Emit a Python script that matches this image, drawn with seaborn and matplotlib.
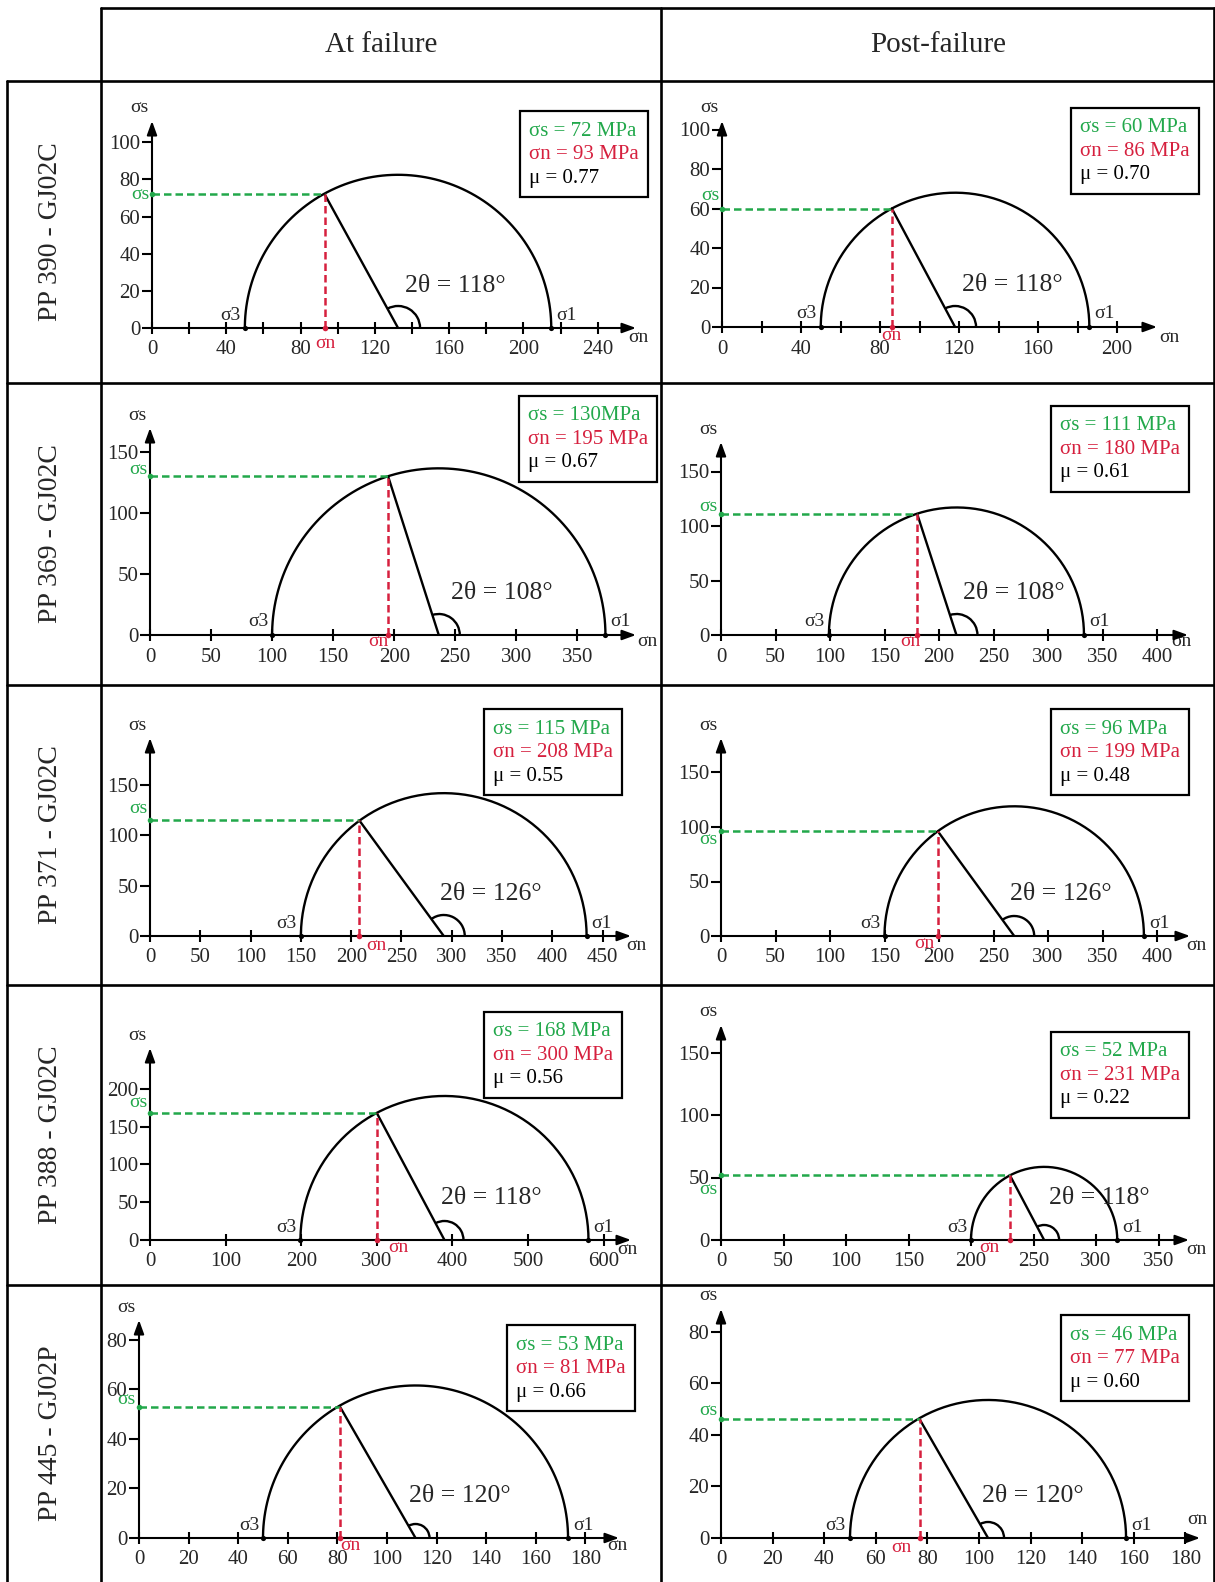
import numpy as np
import matplotlib
matplotlib.use('Agg')
import matplotlib.pyplot as plt
import seaborn as sns
from matplotlib.patches import Arc, Rectangle

sns.set_theme(style='white')
plt.rcParams['font.family'] = ['Liberation Serif', 'DejaVu Serif']

W, H = 1215, 1582
GREEN = '#22a84b'
RED = '#d6203e'

# table headings
samples = ['PP 390 - GJ02C', 'PP 369 - GJ02C', 'PP 371 - GJ02C', 'PP 388 - GJ02C', 'PP 445 - GJ02P']
stages = ['At failure', 'Post-failure']

# one value per panel, row by row (at failure, post-failure)
sigma3 = [50, 50, 100, 99, 150, 150, 199, 200, 50, 50]
sigma1 = [215, 186, 373, 333, 434, 388, 580, 317, 173, 157]
sigma_s = [72, 60, 130, 111, 115, 96, 168, 52, 53, 46]
sigma_n = [93, 86, 195, 180, 208, 199, 300, 231, 81, 77]
two_theta = [118, 118, 108, 108, 126, 126, 118, 118, 120, 120]
mu = ['0.77', '0.70', '0.67', '0.61', '0.55', '0.48', '0.56', '0.22', '0.66', '0.60']
ss_text = ['72 MPa', '60 MPa', '130MPa', '111 MPa', '115 MPa', '96 MPa', '168 MPa', '52 MPa', '53 MPa', '46 MPa']

# axis ticks: (major step, last label, minor step) for x, (step, last) for y
x_ticks = [(40, 240, 20), (40, 200, 20), (50, 350, 0), (50, 400, 0), (50, 450, 0),
           (50, 400, 0), (100, 600, 0), (50, 350, 0), (20, 180, 0), (20, 180, 0)]
y_ticks = [(20, 100), (20, 100), (50, 150), (50, 150), (50, 150),
           (50, 150), (50, 200), (50, 150), (20, 80), (20, 80)]

# layout in pixels: origin, px per unit, arrow tips
org_x = [152, 722, 150, 721, 150, 721, 150, 721, 139, 721]
org_y = [328, 327, 635, 635, 936, 936, 1240, 1240, 1538, 1538]
scale = [1.857, 1.975, 1.221, 1.09, 1.006, 1.09, 0.756, 1.25, 2.48, 2.58]
tip_x = [636, 1157, 636, 1188, 631, 1190, 631, 1189, 619, 1200]
tip_y = [121, 121, 428, 442, 738, 738, 1048, 1025, 1320, 1309]
sn_lab = [(638, 338), (1169, 337), (647, 642), (1181, 642), (636, 946), (1196, 946),
          (627, 1249), (1196, 1249), (617, 1546), (1197, 1520)]
theta_dx = [7, 7, 12, 7, -4, -4, -3, 5, -7, -6]
arc_r = [22, 21, 21, 21, 21, 20, 19, 15, 14, 16]
green_dy = [0, -13, -7, -8, -12, 8, -10, 15, -7, -9]
red_dx = [1, 0, -10, -7, 17, -14, 22, -20, 10, -18]
red_dy = [15, 8, 7, 7, 9, 7, 7, 7, 8, 10]
box_rt = [(648, 111), (1199, 108), (657, 396), (1189, 406), (622, 709),
          (1189, 709), (622, 1012), (1189, 1032), (635, 1325), (1189, 1315)]

fig = plt.figure(figsize=(W / 100, H / 100), dpi=100)
bg = fig.add_axes([0, 0, 1, 1])
bg.set_xlim(0, W)
bg.set_ylim(H, 0)
bg.axis('off')

# table grid
row_y = [81, 383, 685, 985, 1285]
lw_tab = 1.9
bg.plot([101, W - 1], [8, 8], color='black', lw=lw_tab)
for y in row_y:
    bg.plot([7, W - 1], [y, y], color='black', lw=lw_tab)
bg.plot([101, 101], [8, H], color='black', lw=lw_tab)
bg.plot([661, 661], [8, H], color='black', lw=lw_tab)
bg.plot([W - 1, W - 1], [8, H], color='black', lw=lw_tab)
bg.plot([7, 7], [81, H], color='black', lw=lw_tab)

bg.text(381, 45, stages[0], ha='center', va='center', fontsize=21)
bg.text(938, 45, stages[1], ha='center', va='center', fontsize=21)
row_bottom = row_y[1:] + [H]
for name, top, bot in zip(samples, row_y, row_bottom):
    bg.text(51, (top + bot) / 2, name, rotation=90, ha='center', va='center', fontsize=20)

renderer = fig.canvas.get_renderer()
PT = 0.72  # points per pixel at 100 dpi

for i in range(10):
    s = scale[i]
    x0, y0 = org_x[i], org_y[i]
    xmax = (tip_x[i] - x0) / s
    ymax = (y0 - tip_y[i]) / s
    ax = fig.add_axes([x0 / W, 1 - y0 / H, (tip_x[i] - x0) / W, (y0 - tip_y[i]) / H])
    ax.patch.set_visible(False)
    ax.set_xlim(0, xmax)
    ax.set_ylim(0, ymax)
    for sp in ax.spines.values():
        sp.set_visible(False)

    # axes with arrows
    arrow = dict(arrowstyle='-|>,head_length=0.55,head_width=0.2', color='black',
                 lw=1.5, shrinkA=0, shrinkB=0, mutation_scale=15)
    ax.annotate('', xy=(xmax, 0), xytext=(0, 0), arrowprops=arrow, annotation_clip=False)
    ax.annotate('', xy=(0, ymax), xytext=(0, 0), arrowprops=arrow, annotation_clip=False)

    xs, xl, xm = x_ticks[i]
    ys, yl = y_ticks[i]
    xt = np.arange(0, xl + 1, xs)
    ax.set_xticks(xt)
    ax.set_xticklabels([str(v) for v in xt])
    if xm:
        ax.set_xticks(np.arange(xm, xl + 1, xs), minor=True)
    yt = np.arange(0, yl + 1, ys)
    ax.set_yticks(yt)
    ax.set_yticklabels([str(v) for v in yt])
    ax.tick_params(axis='x', which='both', direction='inout', length=9, width=1.5,
                   labelsize=15, pad=4.5, color='black', bottom=True)
    ax.tick_params(axis='y', direction='out', length=7, width=1.5,
                   labelsize=15, pad=1.5, color='black', left=True)
    ax.set_xlabel('')
    ax.set_ylabel('')

    # Mohr semicircle
    c = (sigma1[i] + sigma3[i]) / 2
    r = (sigma1[i] - sigma3[i]) / 2
    ang = np.linspace(0, np.pi, 200)
    sns.lineplot(x=c + r * np.cos(ang), y=r * np.sin(ang), sort=False, estimator=None,
                 color='black', lw=1.7, ax=ax)
    sns.lineplot(x=[c, sigma_n[i]], y=[0, sigma_s[i]], sort=False, estimator=None,
                 color='black', lw=1.7, ax=ax)
    ax.plot([0, sigma_n[i]], [sigma_s[i], sigma_s[i]], color=GREEN, lw=1.8,
            dashes=(3, 1.6), clip_on=False)
    ax.plot([sigma_n[i], sigma_n[i]], [0, sigma_s[i]], color=RED, lw=1.8,
            dashes=(3, 1.6), clip_on=False)
    sns.scatterplot(x=[sigma3[i], sigma1[i]], y=[0, 0], color='black', s=14,
                    linewidth=0, ax=ax, clip_on=False, zorder=5)
    sns.scatterplot(x=[0], y=[sigma_s[i]], color=GREEN, s=16, linewidth=0, ax=ax,
                    clip_on=False, zorder=5)
    sns.scatterplot(x=[sigma_n[i]], y=[0], color=RED, s=16, linewidth=0, ax=ax,
                    clip_on=False, zorder=5)

    # angle arc at circle centre
    ang_end = np.degrees(np.arctan2(sigma_s[i], sigma_n[i] - c))
    d = 2 * arc_r[i] / s
    ax.add_patch(Arc((c, 0), d, d, theta1=0, theta2=ang_end, color='black', lw=1.7,
                     clip_on=False))

    # labels
    ax.annotate('σ3', xy=(sigma3[i], 0), xytext=(-4 * PT, 13 * PT), textcoords='offset points',
                ha='right', va='center', fontsize=14)
    ax.annotate('σ1', xy=(sigma1[i], 0), xytext=(5 * PT, 13 * PT), textcoords='offset points',
                ha='left', va='center', fontsize=14)
    ax.annotate(f'2θ = {two_theta[i]}°', xy=(c, 0), xytext=(theta_dx[i] * PT, 42 * PT),
                textcoords='offset points', ha='left', va='center', fontsize=18.5)
    ax.annotate('σs', xy=(0, sigma_s[i]), xytext=(-3 * PT, -green_dy[i] * PT),
                textcoords='offset points', ha='right', va='center', fontsize=14, color=GREEN)
    ax.annotate('σn', xy=(sigma_n[i], 0), xytext=(red_dx[i] * PT, -red_dy[i] * PT),
                textcoords='offset points', ha='center', va='center', fontsize=14, color=RED)
    bg.text(x0 - 13, tip_y[i] - 13, 'σs', ha='center', va='center', fontsize=14)
    bg.text(sn_lab[i][0], sn_lab[i][1], 'σn', ha='center', va='center', fontsize=14)

    # result box
    rx, ty = box_rt[i]
    lines = [(f'σs = {ss_text[i]}', GREEN), (f'σn = {sigma_n[i]} MPa', RED), (f'μ = {mu[i]}', 'black')]
    txts = [bg.text(0, ty + 20 + 23.5 * k, t, color=col, ha='left', va='center', fontsize=15)
            for k, (t, col) in enumerate(lines)]
    wmax = max(t.get_window_extent(renderer).width for t in txts)
    lx = rx - 9 - wmax
    for t in txts:
        t.set_x(lx)
    bg.add_patch(Rectangle((lx - 9, ty), wmax + 18, 86, fill=False, ec='black', lw=1.6))

fig.savefig('out.png', dpi=100)
